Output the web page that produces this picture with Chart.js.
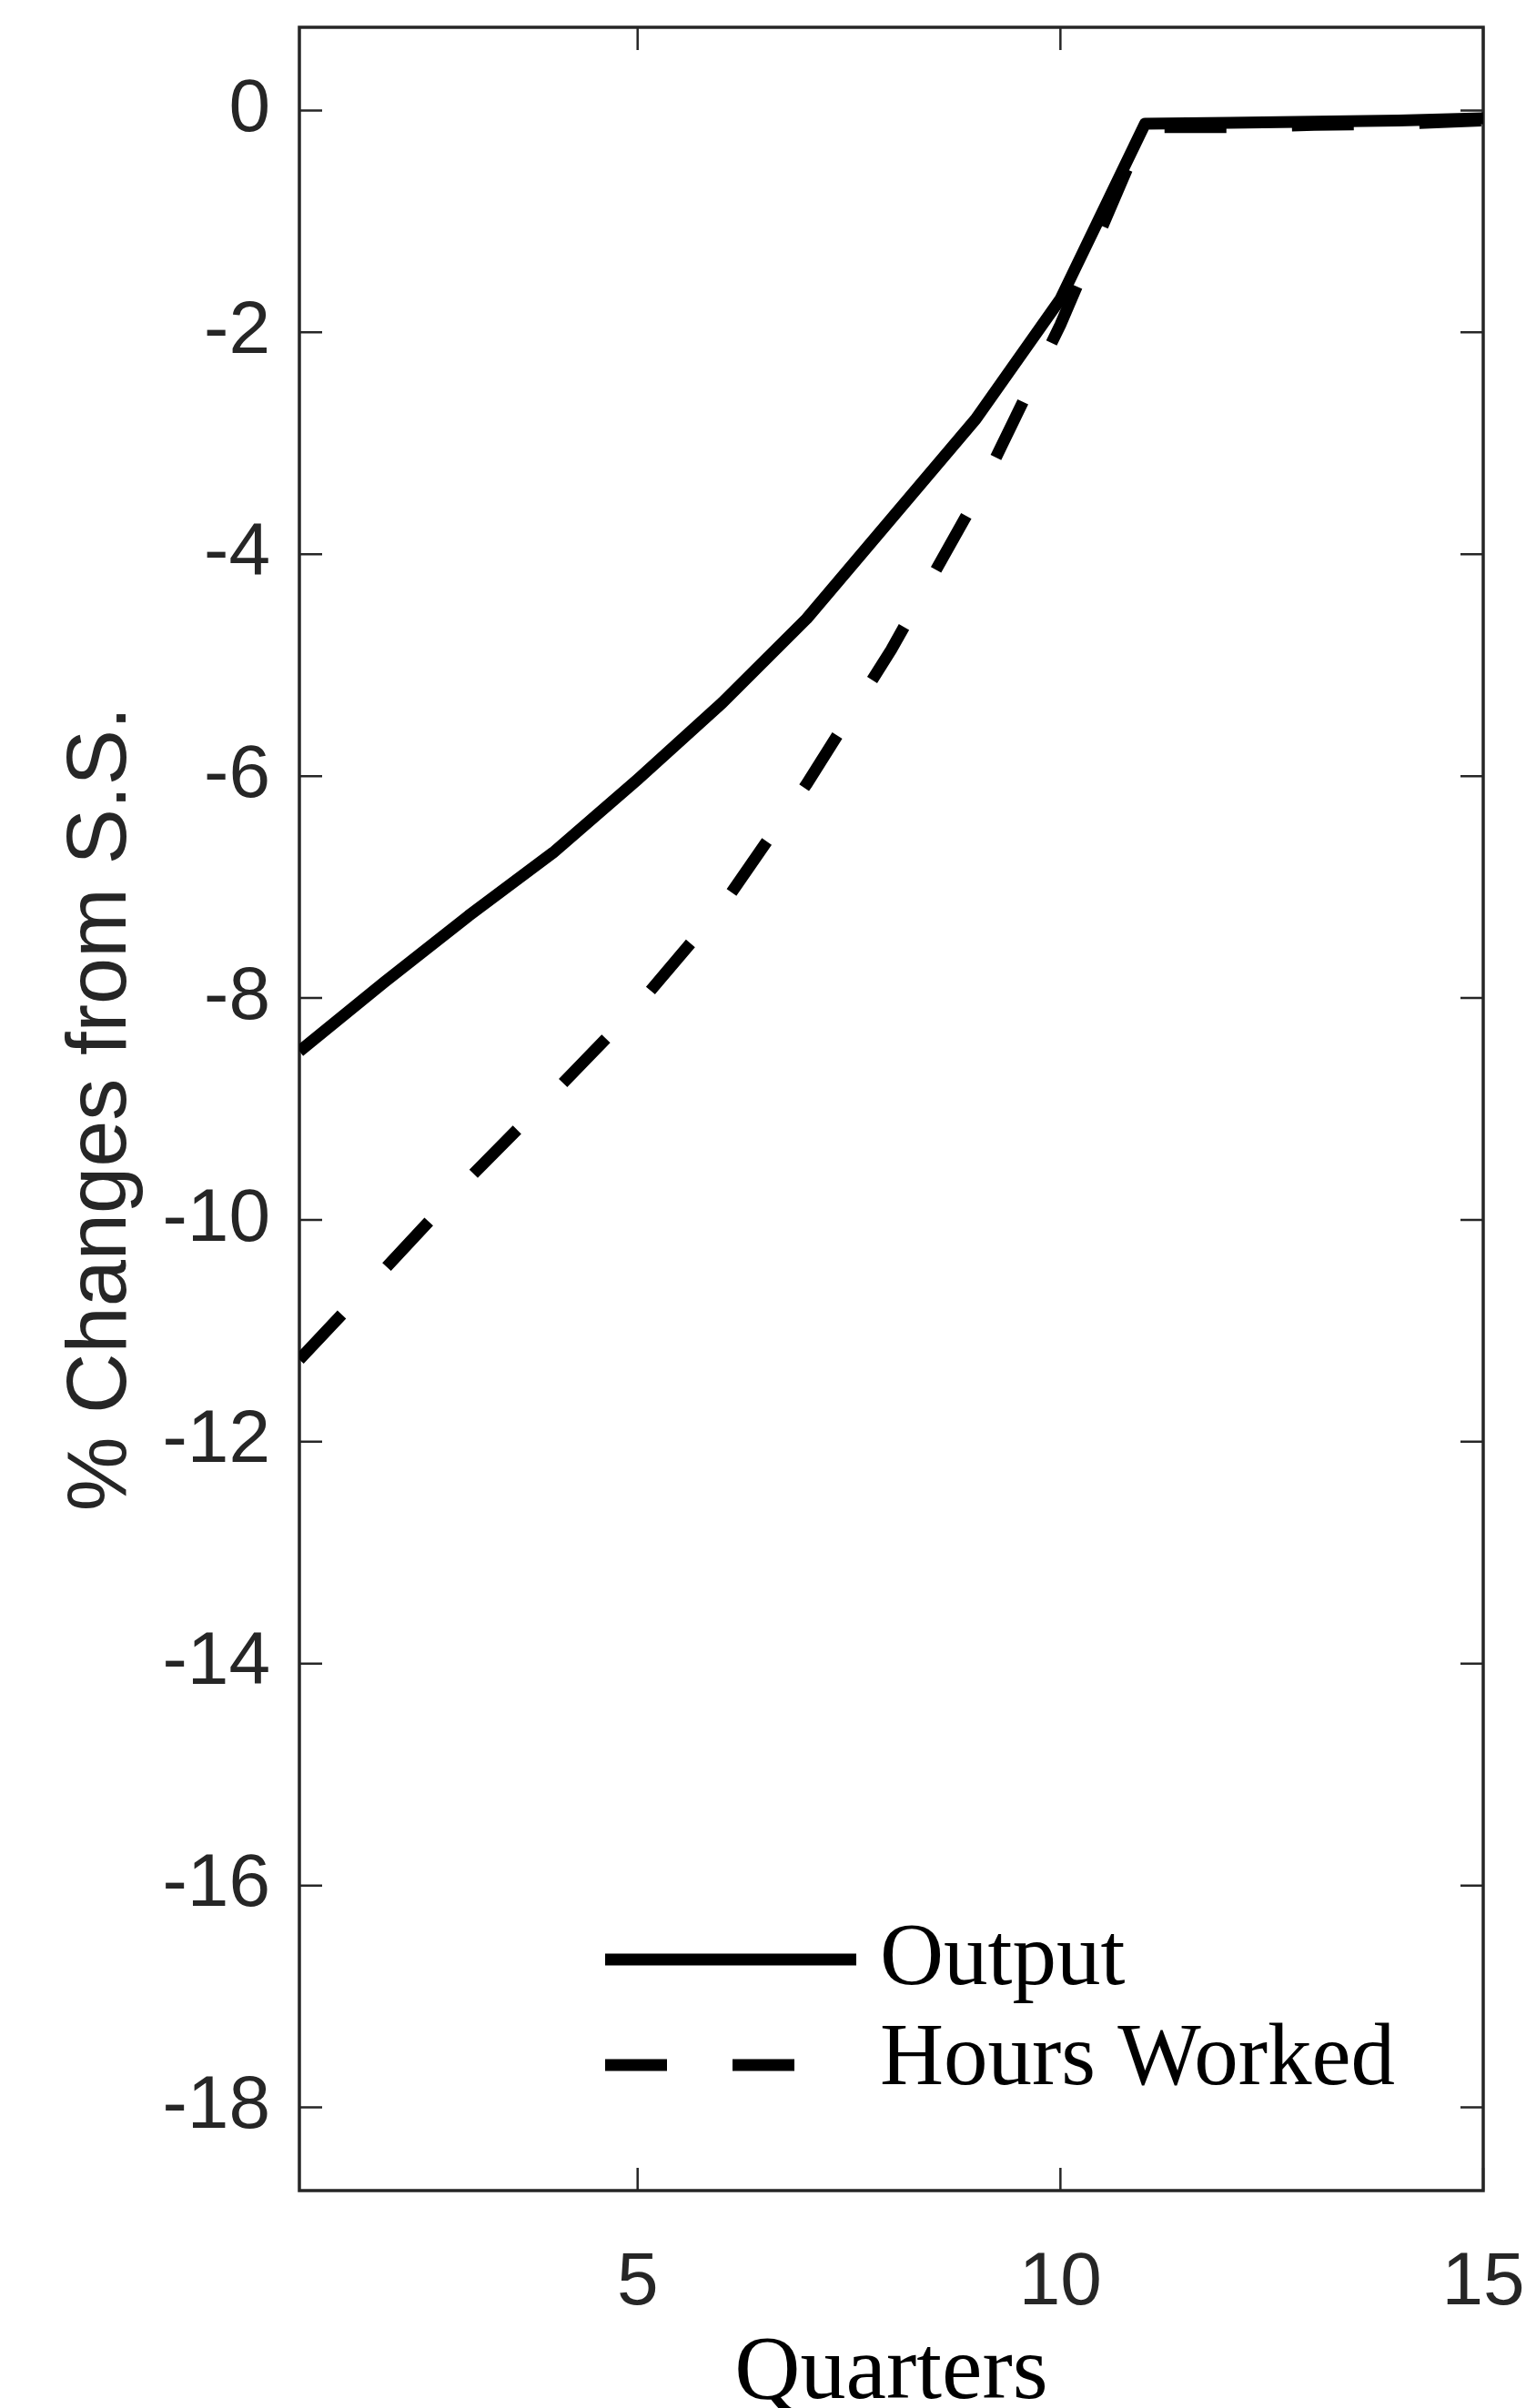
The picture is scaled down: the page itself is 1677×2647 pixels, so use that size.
<!DOCTYPE html>
<html>
<head>
<meta charset="utf-8">
<script src="https://cdn.jsdelivr.net/npm/chart.js@4/dist/chart.umd.min.js"></script>
<style>
html,body{margin:0;padding:0;background:#ffffff;}
#wrap{width:1677px;height:2647px;}
</style>
</head>
<body>
<div id="wrap"><canvas id="c" width="1677" height="2647"></canvas></div>
<script>
// ---- data ----
const quarters = [1, 2, 3, 4, 5, 6, 7, 8, 9, 10, 11, 12, 13, 14, 15];
const outputValues = [-8.48, -7.86, -7.26, -6.69, -6.03, -5.34, -4.58, -3.68, -2.78, -1.70, -0.12, -0.11, -0.10, -0.09, -0.07];
const hoursValues  = [-11.26, -10.45, -9.63, -8.86, -8.07, -7.17, -6.07, -4.86, -3.50, -1.93, -0.15, -0.15, -0.13, -0.12, -0.09];
const seriesNames = ['Output', 'Hours Worked'];
const xTickValues = [5, 10, 15];
const yTickValues = [0, -2, -4, -6, -8, -10, -12, -14, -16, -18];
const xAxisTitle = 'Quarters';
const yAxisTitle = '% Changes from S.S.';

// ---- styles ----
const AXIS_COLOR = '#262626';
const TICK_LEN = 25;
const LINE_W = 13;
const DASH = [68, 72];

const boxPlugin = {
  id: 'matlabBox',
  beforeDatasetsDraw(chart) {
    const {ctx, chartArea: a, scales: {x, y}} = chart;
    ctx.save();
    ctx.strokeStyle = AXIS_COLOR;
    ctx.lineWidth = 2.5;
    ctx.beginPath();
    x.ticks.forEach(t => {
      const px = x.getPixelForValue(t.value);
      ctx.moveTo(px, a.bottom); ctx.lineTo(px, a.bottom - TICK_LEN);
      ctx.moveTo(px, a.top); ctx.lineTo(px, a.top + TICK_LEN);
    });
    y.ticks.forEach(t => {
      const py = y.getPixelForValue(t.value);
      ctx.moveTo(a.left, py); ctx.lineTo(a.left + TICK_LEN, py);
      ctx.moveTo(a.right, py); ctx.lineTo(a.right - TICK_LEN, py);
    });
    ctx.stroke();
    ctx.lineWidth = 3.5;
    ctx.strokeRect(a.left, a.top, a.right - a.left, a.bottom - a.top);
    ctx.restore();
  }
};

const legendPlugin = {
  id: 'matlabLegend',
  afterDatasetsDraw(chart) {
    const {ctx, chartArea: a} = chart;
    const x0 = a.left + 336, x1 = a.left + 612, tx = a.left + 638;
    const rows = [
      {y: a.top + 2124, base: a.top + 2151, dash: []},
      {y: a.top + 2240, base: a.top + 2261, dash: DASH}
    ];
    ctx.save();
    rows.forEach((r, i) => {
      const ds = chart.data.datasets[i];
      ctx.strokeStyle = ds.borderColor;
      ctx.lineWidth = LINE_W;
      ctx.lineCap = 'butt';
      ctx.setLineDash(r.dash);
      ctx.beginPath();
      ctx.moveTo(x0, r.y); ctx.lineTo(x1, r.y);
      ctx.stroke();
      ctx.setLineDash([]);
      ctx.fillStyle = '#000000';
      ctx.font = '97px "Liberation Serif"';
      ctx.textAlign = 'left';
      ctx.textBaseline = 'alphabetic';
      ctx.fillText(ds.label, tx, r.base);
    });
    ctx.restore();
  }
};

const toPoints = vals => quarters.map((q, i) => ({x: q, y: vals[i]}));

new Chart(document.getElementById('c').getContext('2d'), {
  type: 'line',
  data: {
    datasets: [
      {label: seriesNames[0], data: toPoints(outputValues), borderColor: '#000000', borderWidth: LINE_W,
       pointRadius: 0, tension: 0, fill: false, borderJoinStyle: 'round', borderCapStyle: 'butt'},
      {label: seriesNames[1], data: toPoints(hoursValues), borderColor: '#000000', borderWidth: LINE_W,
       borderDash: DASH, pointRadius: 0, tension: 0, fill: false, borderJoinStyle: 'round', borderCapStyle: 'butt'}
    ]
  },
  options: {
    responsive: false,
    animation: false,
    devicePixelRatio: 1,
    layout: {padding: {top: 30, right: 47, left: 0, bottom: 0}},
    plugins: {legend: {display: false}, tooltip: {enabled: false}, title: {display: false}},
    scales: {
      x: {
        type: 'linear', min: 1, max: 15,
        afterBuildTicks: s => { s.ticks = xTickValues.map(v => ({value: v})); },
        afterFit: s => { s.height = 239; s.paddingLeft = 0; s.paddingRight = 0; },
        grid: {display: false, drawTicks: false},
        border: {display: false},
        ticks: {padding: 53, color: AXIS_COLOR, maxRotation: 0, autoSkip: false,
                font: {family: '"Liberation Sans"', size: 82}},
        title: {display: true, text: xAxisTitle, color: '#000000', padding: 0,
                font: {family: '"Liberation Serif"', size: 100, lineHeight: 0.74}}
      },
      y: {
        type: 'linear', min: -18.75, max: 0.75,
        afterBuildTicks: s => { s.ticks = yTickValues.map(v => ({value: v})); },
        afterFit: s => { s.width = 329; s.paddingTop = 0; s.paddingBottom = 0; },
        grid: {display: false, drawTicks: false},
        border: {display: false},
        ticks: {padding: 32, color: AXIS_COLOR, autoSkip: false,
                font: {family: '"Liberation Sans"', size: 82}},
        title: {display: true, text: yAxisTitle, color: AXIS_COLOR, padding: {top: 57, bottom: 0},
                font: {family: '"Liberation Sans"', size: 92}}
      }
    }
  },
  plugins: [boxPlugin, legendPlugin]
});
</script>
</body>
</html>
